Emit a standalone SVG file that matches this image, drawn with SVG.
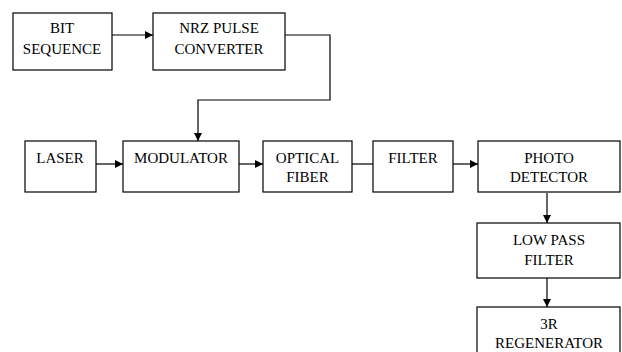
<svg xmlns="http://www.w3.org/2000/svg" width="622" height="352" viewBox="0 0 622 352">
  <style>
    .box { fill: #ffffff; stroke: #000000; stroke-width: 1.2; }
    .lbl { font-family: "Liberation Serif", "Times New Roman", serif; font-size: 15px; fill: #000000; text-anchor: middle; }
    .wire { fill: none; stroke: #000000; stroke-width: 1.2; }
  </style>
  <defs>
    <marker id="arrow" viewBox="0 0 10 10" refX="10" refY="5" markerWidth="8" markerHeight="8" markerUnits="userSpaceOnUse" orient="auto">
      <path d="M0,0 L10,5 L0,10 z" fill="#000000"/>
    </marker>
  </defs>
  <rect width="622" height="352" fill="#ffffff"/>

  <g id="connectors">
    <line class="wire" x1="112" y1="35" x2="153" y2="35" marker-end="url(#arrow)"/>
    <polyline class="wire" points="285,35 330,35 330,100 198,100 198,141" marker-end="url(#arrow)"/>
    <line class="wire" x1="96" y1="164" x2="123" y2="164" marker-end="url(#arrow)"/>
    <line class="wire" x1="239" y1="164" x2="263" y2="164" marker-end="url(#arrow)"/>
    <line class="wire" x1="352" y1="164" x2="373" y2="164"/>
    <line class="wire" x1="453" y1="164" x2="478" y2="164" marker-end="url(#arrow)"/>
    <line class="wire" x1="547" y1="193" x2="547" y2="223" marker-end="url(#arrow)"/>
    <line class="wire" x1="547" y1="278" x2="547" y2="307" marker-end="url(#arrow)"/>
  </g>

  <g id="bit-sequence">
    <rect class="box" x="13" y="13" width="99" height="57"/>
    <text class="lbl" x="62" y="33">BIT</text>
    <text class="lbl" x="62" y="54">SEQUENCE</text>
  </g>
  <g id="nrz-converter">
    <rect class="box" x="153" y="13" width="132" height="57"/>
    <text class="lbl" x="219" y="33">NRZ PULSE</text>
    <text class="lbl" x="219" y="54">CONVERTER</text>
  </g>
  <g id="laser">
    <rect class="box" x="25" y="141" width="71" height="51"/>
    <text class="lbl" x="60" y="163">LASER</text>
  </g>
  <g id="modulator">
    <rect class="box" x="123" y="141" width="116" height="51"/>
    <text class="lbl" x="181" y="163">MODULATOR</text>
  </g>
  <g id="optical-fiber">
    <rect class="box" x="263" y="141" width="89" height="51"/>
    <text class="lbl" x="307.5" y="163">OPTICAL</text>
    <text class="lbl" x="307.5" y="182">FIBER</text>
  </g>
  <g id="filter">
    <rect class="box" x="373" y="141" width="80" height="51"/>
    <text class="lbl" x="413" y="163">FILTER</text>
  </g>
  <g id="photo-detector">
    <rect class="box" x="478" y="141" width="142" height="51"/>
    <text class="lbl" x="549" y="163">PHOTO</text>
    <text class="lbl" x="549" y="182">DETECTOR</text>
  </g>
  <g id="low-pass-filter">
    <rect class="box" x="477" y="223" width="143" height="55"/>
    <text class="lbl" x="549" y="245">LOW PASS</text>
    <text class="lbl" x="549" y="265">FILTER</text>
  </g>
  <g id="regenerator">
    <rect class="box" x="477" y="307" width="143" height="60"/>
    <text class="lbl" x="549" y="329">3R</text>
    <text class="lbl" x="549" y="348">REGENERATOR</text>
  </g>
</svg>
